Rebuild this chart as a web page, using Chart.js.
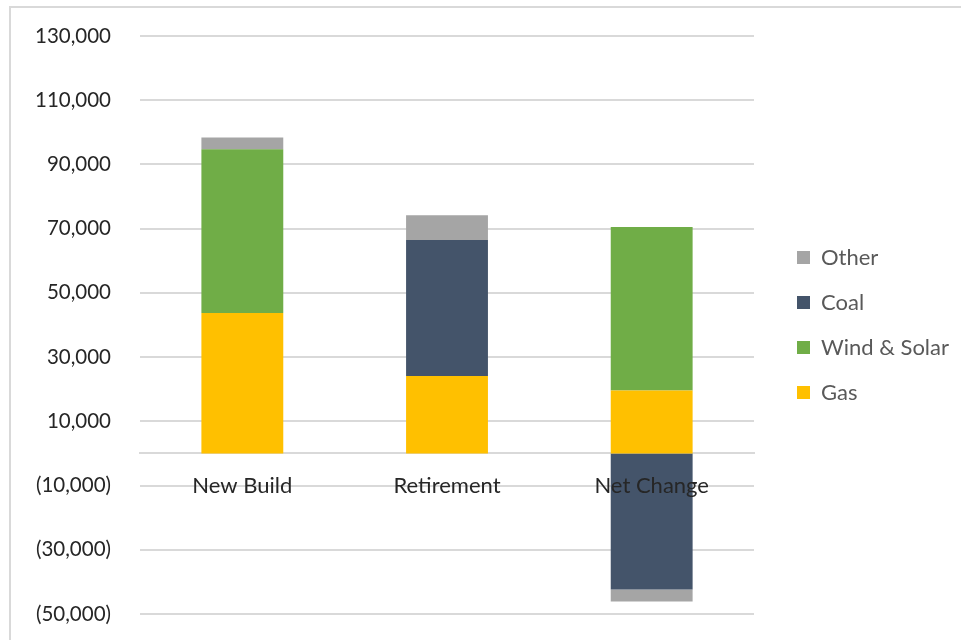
<!DOCTYPE html>
<html>
<head>
<meta charset="utf-8">
<script src="https://cdn.jsdelivr.net/npm/chart.js@4.4.1/dist/chart.umd.min.js"></script>
<style>
  body { margin: 0; background: #fff; }
  #wrap { position: relative; width: 961px; height: 640px; overflow: hidden; }
  #frame { position: absolute; left: 9px; top: 6px; width: 980px; height: 660px;
           border-top: 2px solid #d9d9d9; border-left: 2px solid #d9d9d9; box-sizing: border-box; }
  #grafico { position: absolute; left: 0; top: 0; }
</style>
</head>
<body>
<div id="wrap">
  <div id="frame"></div>
  <canvas id="grafico" width="961" height="640"></canvas>
</div>
<script>
// categorias e series (MW)
const categorias = ['New Build', 'Retirement', 'Net Change'];
const gas = [43700, 24100, 19600];
const windSolar = [51000, 0, 50900];
const coal = [0, 42400, -42400];
const other = [3700, 7700, -3700];
const yTicks = [-50000, -30000, -10000, 10000, 30000, 50000, 70000, 90000, 110000, 130000];

const fonte = "Lato, 'Noto Sans', sans-serif";

function formatarValor(v) {
    const s = Math.abs(v).toLocaleString('en-US');
    return v < 0 ? `(${s})` : s;
}

// empurra a legenda um pouco para a direita
const deslocarLegenda = {
    id: 'deslocarLegenda',
    afterLayout(chart) {
        const lg = chart.legend;
        if (lg) {
            lg.left += 20;
            lg.right += 20;
        }
    }
};

const ctx = document.getElementById('grafico').getContext('2d');

new Chart(ctx, {
    type: 'bar',
    data: {
        labels: categorias,
        datasets: [
            { label: 'Gas', data: gas, backgroundColor: '#FFC000' },
            { label: 'Wind & Solar', data: windSolar, backgroundColor: '#70AD47' },
            { label: 'Coal', data: coal, backgroundColor: '#44546A' },
            { label: 'Other', data: other, backgroundColor: '#A5A5A5' },
        ]
    },
    plugins: [deslocarLegenda],
    options: {
        responsive: false,
        animation: false,
        datasets: {
            bar: { barPercentage: 0.4, categoryPercentage: 1 }
        },
        layout: {
            padding: { top: 36, bottom: 26, left: 0, right: 22 }
        },
        plugins: {
            tooltip: { enabled: false },
            legend: {
                position: 'right',
                reverse: true,
                labels: {
                    boxWidth: 13,
                    boxHeight: 13,
                    padding: 23,
                    color: '#595959',
                    font: { family: fonte, size: 22 }
                }
            }
        },
        scales: {
            x: {
                stacked: true,
                position: { y: 0 },
                afterFit: (scale) => { scale.height = 0; },
                grid: { display: false, drawTicks: false },
                border: { display: true, color: '#d9d9d9', width: 2 },
                ticks: {
                    z: 1,
                    padding: 19,
                    color: '#262626',
                    font: { family: fonte, size: 22 }
                }
            },
            y: {
                stacked: true,
                min: -50000,
                max: 130000,
                afterBuildTicks: (scale) => {
                    scale.ticks = yTicks.map(v => ({ value: v }));
                },
                afterFit: (scale) => {
                    scale.width = 140;
                    scale.paddingTop = 0;
                    scale.paddingBottom = 0;
                },
                grid: { color: '#d9d9d9', lineWidth: 2, drawTicks: false },
                border: { display: false },
                ticks: {
                    padding: 29,
                    color: '#262626',
                    font: { family: fonte, size: 20.5 },
                    callback: (v) => formatarValor(v)
                }
            }
        }
    }
});
</script>
</body>
</html>
